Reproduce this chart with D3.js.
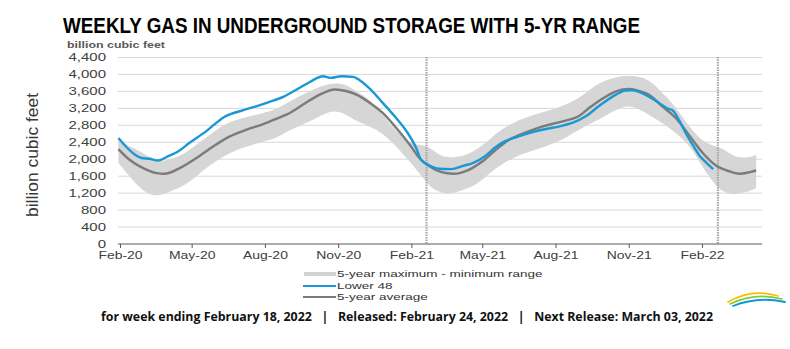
<!DOCTYPE html>
<html><head><meta charset="utf-8">
<script src="https://cdn.jsdelivr.net/npm/d3@7"></script>
<style>
body{margin:0;background:#fff;}
svg{display:block;font-family:"Liberation Sans",Arial,sans-serif;}
</style></head><body>
<svg id="chart" width="790" height="349"></svg>
<script>
// ---------- data ----------
const yTicks = [0,400,800,1200,1600,2000,2400,2800,3200,3600,4000,4400];
const xTickLabels = ["Feb-20","May-20","Aug-20","Nov-20","Feb-21","May-21","Aug-21","Nov-21","Feb-22"];
const markerDates = ["2021-02-20","2022-02-21"];

const lower48Dates = ["2020-01-30","2020-02-09","2020-02-20","2020-02-28","2020-03-09","2020-03-20","2020-04-01","2020-04-14","2020-04-28","2020-05-19","2020-06-11","2020-07-04","2020-07-21","2020-08-05","2020-08-24","2020-09-10","2020-09-26","2020-10-13","2020-10-23","2020-11-05","2020-11-20","2020-11-28","2020-12-11","2020-12-27","2021-01-11","2021-01-26","2021-02-07","2021-02-13","2021-02-22","2021-03-08","2021-03-23","2021-04-07","2021-04-19","2021-05-04","2021-05-18","2021-05-29","2021-06-13","2021-06-29","2021-07-20","2021-08-06","2021-08-22","2021-09-08","2021-09-25","2021-10-16","2021-10-28","2021-11-05","2021-11-24","2021-12-09","2021-12-21","2021-12-26","2022-01-04","2022-01-12","2022-01-21","2022-01-29","2022-02-06","2022-02-15"];
const lower48Values = [2500,2288,2106,2028,2011,1971,2066,2184,2382,2657,2997,3154,3249,3343,3470,3644,3817,3958,3920,3958,3944,3864,3660,3329,3012,2657,2264,1987,1869,1775,1767,1845,1909,2066,2288,2420,2524,2619,2714,2775,2855,3012,3260,3525,3620,3627,3502,3329,3187,3154,2894,2603,2319,2082,1924,1767];

const avgDates = ["2020-01-30","2020-02-13","2020-03-01","2020-03-18","2020-03-28","2020-04-16","2020-05-07","2020-05-28","2020-06-18","2020-07-09","2020-07-30","2020-08-20","2020-08-28","2020-09-18","2020-10-09","2020-10-28","2020-11-12","2020-11-24","2020-12-11","2020-12-27","2021-01-13","2021-01-30","2021-02-11","2021-02-24","2021-03-10","2021-03-26","2021-04-14","2021-05-01","2021-05-18","2021-06-04","2021-06-25","2021-07-16","2021-08-10","2021-08-31","2021-09-13","2021-09-25","2021-10-16","2021-11-01","2021-11-12","2021-11-26","2021-12-13","2021-12-30","2022-01-17","2022-02-02","2022-02-19","2022-03-08","2022-03-20","2022-04-02","2022-04-10"];
const avgValues = [2240,1987,1791,1673,1656,1791,2028,2302,2539,2697,2830,2990,3052,3289,3525,3644,3603,3525,3329,3092,2737,2342,2028,1829,1700,1656,1751,1947,2224,2461,2634,2775,2894,3028,3220,3380,3603,3660,3620,3525,3249,2973,2539,2146,1845,1711,1656,1696,1734];

const rangeDates = ["2020-01-30","2020-02-13","2020-02-26","2020-03-09","2020-03-22","2020-04-03","2020-04-20","2020-05-07","2020-05-24","2020-06-10","2020-06-26","2020-07-13","2020-07-30","2020-08-15","2020-08-28","2020-09-18","2020-10-09","2020-10-26","2020-11-12","2020-11-24","2020-12-11","2020-12-27","2021-01-13","2021-01-30","2021-02-11","2021-02-24","2021-03-08","2021-03-21","2021-04-07","2021-04-24","2021-05-10","2021-05-27","2021-06-13","2021-06-29","2021-07-20","2021-08-10","2021-08-31","2021-09-13","2021-09-27","2021-10-16","2021-11-01","2021-11-18","2021-12-01","2021-12-13","2021-12-26","2022-01-08","2022-01-21","2022-02-02","2022-02-15","2022-02-27","2022-03-12","2022-03-24","2022-04-06","2022-04-10"];
const rangeMax = [2461,2290,2200,2040,1947,1987,2106,2342,2579,2816,2934,3012,3092,3170,3329,3525,3722,3802,3762,3603,3407,3052,2657,2382,2342,2290,2086,2028,2066,2224,2461,2737,2894,3012,3131,3249,3447,3640,3830,3944,3975,3944,3802,3565,3329,2973,2657,2420,2319,2264,2066,2028,2066,2106];
const rangeMin = [1909,1593,1318,1159,1136,1237,1356,1593,1869,2066,2224,2319,2420,2490,2657,2816,3012,3170,3052,2894,2775,2619,2302,1947,1673,1350,1220,1159,1278,1396,1673,1909,2066,2184,2302,2461,2697,2840,2960,3170,3289,3150,2990,2855,2680,2480,2200,1800,1450,1220,1159,1200,1280,1318];

const legendLabels = ["5-year maximum - minimum range","Lower 48","5-year average"];

// ---------- drawing ----------
const parse = d3.timeParse("%Y-%m-%d");
const parseTick = d3.timeParse("%b-%y");
const svg = d3.select("#chart");

const x = d3.scaleTime().domain([parse("2020-02-01"), parse("2022-02-01")]).range([120, 702]);
const y = d3.scaleLinear().domain([0, 4400]).range([244, 57.5]);
const plotLeft = 118, plotRight = 762;

const blue = "#1a98d5", grey = "#7b7b7b", band = "#d6d6d6";

// title
svg.append("text").attr("x", 63).attr("y", 32.5)
  .attr("font-size", 22).attr("font-weight", "bold").attr("fill", "#000")
  .attr("textLength", 577).attr("lengthAdjust", "spacingAndGlyphs")
  .text("WEEKLY GAS IN UNDERGROUND STORAGE WITH 5-YR RANGE");

svg.append("text").attr("x", 67).attr("y", 48)
  .attr("font-size", 8.5).attr("font-weight", "bold").attr("fill", "#595959")
  .attr("textLength", 98).attr("lengthAdjust", "spacingAndGlyphs")
  .text("billion cubic feet");

// rotated y title
svg.append("text")
  .attr("transform", "translate(38,155) scale(1.2,1) rotate(-90)")
  .attr("text-anchor", "middle").attr("font-size", 14).attr("fill", "#3a3a3a")
  .attr("textLength", 124).attr("lengthAdjust", "spacingAndGlyphs")
  .text("billion cubic feet");

// gridlines
svg.append("g").selectAll("line").data(yTicks.filter(d => d > 0)).join("line")
  .attr("x1", plotLeft).attr("x2", plotRight)
  .attr("y1", d => y(d)).attr("y2", d => y(d))
  .attr("stroke", "#d9d9d9").attr("stroke-width", 1);

// band
const rangeData = rangeDates.map((d, i) => ({date: parse(d), hi: rangeMax[i], lo: rangeMin[i]}));
svg.append("path").datum(rangeData)
  .attr("fill", band)
  .attr("d", d3.area().x(d => x(d.date)).y0(d => y(d.lo)).y1(d => y(d.hi)).curve(d3.curveBasis));

// vertical dotted markers
svg.append("g").selectAll("line").data(markerDates).join("line")
  .attr("x1", d => x(parse(d))).attr("x2", d => x(parse(d)))
  .attr("y1", 57).attr("y2", 244)
  .attr("stroke", "#a8a8a8").attr("stroke-width", 2.2).attr("stroke-dasharray", "1.5,1");

// lines
const avgData = avgDates.map((d, i) => ({date: parse(d), v: avgValues[i]}));
const l48Data = lower48Dates.map((d, i) => ({date: parse(d), v: lower48Values[i]}));
const lineGen = d3.line().x(d => x(d.date)).y(d => y(d.v)).curve(d3.curveMonotoneX);
svg.append("path").datum(avgData).attr("fill", "none").attr("stroke", grey)
  .attr("stroke-width", 2.4).attr("stroke-linejoin", "round").attr("d", lineGen);
svg.append("path").datum(l48Data).attr("fill", "none").attr("stroke", blue)
  .attr("stroke-width", 2.4).attr("stroke-linejoin", "round").attr("d", lineGen);

// y axis labels
const yAxis = svg.append("g").attr("transform", "translate(106,0)")
  .call(d3.axisLeft(y).tickValues(yTicks).tickFormat(d3.format(",")).tickSize(0).tickPadding(0));
yAxis.select(".domain").remove();
yAxis.selectAll("text").attr("font-size", 10).attr("font-family", "Liberation Sans, Arial, sans-serif")
  .attr("fill", "#404040").attr("transform", "scale(1.5,1)");

// x axis
const tickDates = xTickLabels.map(parseTick);
const xAxis = svg.append("g").attr("transform", "translate(0,244)")
  .call(d3.axisBottom(x).tickValues(tickDates).tickFormat(d3.timeFormat("%b-%y")).tickSizeInner(4).tickSizeOuter(0));
xAxis.select(".domain").remove();
xAxis.selectAll(".tick line").attr("stroke", "#595959");
xAxis.selectAll("text").attr("font-size", 10.5).attr("font-family", "Liberation Sans, Arial, sans-serif")
  .attr("fill", "#404040").attr("y", 15.3).attr("dy", 0).attr("transform", "scale(1.33,1)");
svg.append("line").attr("x1", plotLeft).attr("x2", plotRight).attr("y1", 244).attr("y2", 244)
  .attr("stroke", "#595959").attr("stroke-width", 1);

// legend
const lg = svg.append("g");
const rows = [274, 286, 297];
lg.append("line").attr("x1", 304).attr("x2", 336).attr("y1", rows[0]).attr("y2", rows[0])
  .attr("stroke", "#d2d2d2").attr("stroke-width", 4);
lg.append("line").attr("x1", 303).attr("x2", 336).attr("y1", rows[1]).attr("y2", rows[1])
  .attr("stroke", blue).attr("stroke-width", 2);
lg.append("line").attr("x1", 303).attr("x2", 336).attr("y1", rows[2]).attr("y2", rows[2])
  .attr("stroke", grey).attr("stroke-width", 2);
lg.selectAll("text").data(legendLabels).join("text")
  .attr("transform", (d, i) => `translate(337,${rows[i] + 3}) scale(1.5,1)`)
  .attr("font-size", 9).attr("fill", "#333").text(d => d);

// footer
svg.append("text").attr("x", 101).attr("y", 321)
  .attr("font-family", "'Open Sans', 'Noto Sans', sans-serif")
  .attr("font-size", 12).attr("font-weight", "bold").attr("fill", "#111")
  .attr("textLength", 612).attr("lengthAdjust", "spacingAndGlyphs").attr("xml:space", "preserve")
  .text("for week ending February 18, 2022   |   Released: February 24, 2022   |   Next Release: March 03, 2022");

// logo swoosh
const logo = svg.append("g").attr("fill", "none").attr("stroke-linecap", "round");
logo.append("path").attr("d", "M728,302 Q752,288 778,296").attr("stroke", "#f2c200").attr("stroke-width", 1.6);
logo.append("path").attr("d", "M730,304 Q755,292 782,299").attr("stroke", "#8cc63f").attr("stroke-width", 1.6);
logo.append("path").attr("d", "M733,306 Q758,296 785,302").attr("stroke", "#0a9ad6").attr("stroke-width", 1.8);
</script>
</body></html>
